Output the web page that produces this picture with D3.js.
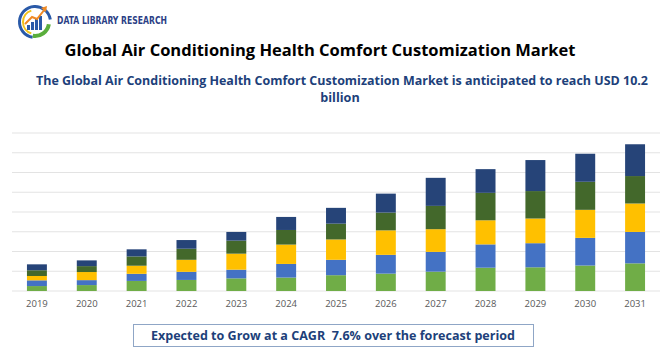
<!DOCTYPE html>
<html>
<head>
<meta charset="utf-8">
<script src="https://cdn.jsdelivr.net/npm/d3@7/dist/d3.min.js"></script>
<style>
  body { margin: 0; background: #fff; }
  svg { display: block; font-family: "Open Sans", "Liberation Sans", sans-serif; }
</style>
</head>
<body>
<svg id="chart"></svg>
<script>
const width = 670;
const height = 350;
const years = ["2019", "2020", "2021", "2022", "2023", "2024", "2025", "2026", "2027", "2028", "2029", "2030", "2031"];
// stacked segments, bottom to top
const seriesA = [0.25, 0.30, 0.51, 0.56, 0.64, 0.68, 0.80, 0.88, 0.98, 1.18, 1.20, 1.29, 1.40];
const seriesB = [0.29, 0.25, 0.36, 0.41, 0.44, 0.69, 0.78, 0.95, 1.00, 1.18, 1.22, 1.40, 1.59];
const seriesC = [0.22, 0.41, 0.41, 0.61, 0.81, 0.98, 1.03, 1.24, 1.15, 1.22, 1.25, 1.42, 1.44];
const seriesD = [0.29, 0.30, 0.47, 0.56, 0.66, 0.74, 0.80, 0.90, 1.18, 1.39, 1.39, 1.42, 1.39];
const seriesE = [0.30, 0.29, 0.36, 0.44, 0.44, 0.66, 0.80, 0.96, 1.42, 1.20, 1.57, 1.42, 1.61];
const seriesKeys = ["a", "b", "c", "d", "e"];
const seriesColors = ["#70ad47", "#4472c4", "#ffc000", "#43682b", "#264478"];
const gridTicks = [0, 1, 2, 3, 4, 5, 6, 7, 8];

const svg = d3.select("#chart").attr("width", width).attr("height", height);

// logo
const logo = svg.append("g").attr("transform", "translate(35,22)");
logo.append("path")
    .attr("d", d3.arc()({innerRadius: 14, outerRadius: 17, startAngle: Math.PI * 0.05, endAngle: Math.PI * 1.45}))
    .attr("fill", "#2a5aa8").attr("transform", "rotate(180)");
logo.append("path")
    .attr("d", d3.arc()({innerRadius: 11, outerRadius: 13, startAngle: Math.PI * 1.1, endAngle: Math.PI * 1.9}))
    .attr("fill", "#f2c318");
logo.append("path")
    .attr("d", d3.arc()({innerRadius: 12, outerRadius: 16, startAngle: Math.PI * 0.55, endAngle: Math.PI * 1.05}))
    .attr("fill", "#5aae3c");
const logoBars = [5, 8, 11, 14];
logo.selectAll("rect.lb").data(logoBars).enter().append("rect")
    .attr("x", (d, i) => -8 + i * 4)
    .attr("y", d => 8 - d)
    .attr("width", 3)
    .attr("height", d => d)
    .attr("fill", "#2a5aa8");
logo.append("path")
    .attr("d", "M-10,2 L-3,-5 L2,-3 L10,-13")
    .attr("fill", "none").attr("stroke", "#f08a24").attr("stroke-width", 2);
logo.append("path").attr("d", "M6,-14 L12,-16 L11,-10 Z").attr("fill", "#f08a24");
svg.append("text")
    .attr("x", 57).attr("y", 24)
    .attr("font-size", 10).attr("font-weight", "bold")
    .attr("font-family", "'DejaVu Sans Condensed', 'Liberation Sans Narrow', sans-serif")
    .attr("fill", "#2c3f86")
    .attr("textLength", 110).attr("lengthAdjust", "spacingAndGlyphs")
    .text("DATA LIBRARY RESEARCH");

// titles
svg.append("text")
    .attr("x", 320).attr("y", 56)
    .attr("text-anchor", "middle")
    .attr("font-size", 16.5).attr("font-weight", "bold")
    .attr("fill", "#000")
    .text("Global Air Conditioning Health Comfort Customization Market");
svg.append("text")
    .attr("x", 342).attr("y", 85)
    .attr("text-anchor", "middle")
    .attr("font-size", 12.6).attr("font-weight", "bold")
    .attr("fill", "#203f7a")
    .attr("textLength", 612).attr("lengthAdjust", "spacingAndGlyphs")
    .text("The Global Air Conditioning Health Comfort Customization Market is anticipated to reach USD 10.2");
svg.append("text")
    .attr("x", 340).attr("y", 102)
    .attr("text-anchor", "middle")
    .attr("font-size", 12.6).attr("font-weight", "bold")
    .attr("fill", "#203f7a")
    .text("billion");

// chart
const x = d3.scaleBand().domain(years).range([12, 660]).paddingInner(0.6).paddingOuter(0.3);
const y = d3.scaleLinear().domain([0, 8]).range([291, 133]);

svg.append("g")
    .selectAll("line")
    .data(gridTicks)
    .enter()
    .append("line")
    .attr("x1", 12).attr("x2", 660)
    .attr("y1", d => y(d)).attr("y2", d => y(d))
    .attr("stroke", "#e3e3e3").attr("stroke-width", 1);

const rows = years.map((yr, i) => ({
    year: yr, a: seriesA[i], b: seriesB[i], c: seriesC[i], d: seriesD[i], e: seriesE[i]
}));
const stacked = d3.stack().keys(seriesKeys)(rows);

svg.append("g")
    .selectAll("g")
    .data(stacked)
    .enter()
    .append("g")
    .attr("fill", (d, i) => seriesColors[i])
    .selectAll("rect")
    .data(d => d)
    .enter()
    .append("rect")
    .attr("x", d => x(d.data.year))
    .attr("y", d => y(d[1]))
    .attr("width", x.bandwidth())
    .attr("height", d => y(d[0]) - y(d[1]));

const xAxis = svg.append("g")
    .attr("transform", "translate(0,291)")
    .call(d3.axisBottom(x).tickSize(0).tickPadding(9));
xAxis.select(".domain").remove();
xAxis.selectAll("text")
    .attr("font-size", 9.5)
    .attr("font-family", "'Open Sans', sans-serif")
    .attr("fill", "#595959");

// CAGR box
svg.append("rect")
    .attr("x", 133.5).attr("y", 324.5)
    .attr("width", 400).attr("height", 22)
    .attr("fill", "#fff")
    .attr("stroke", "#8fa6c6").attr("stroke-width", 1);
svg.append("text")
    .attr("x", 333).attr("y", 340)
    .attr("text-anchor", "middle")
    .attr("font-size", 12.5).attr("font-weight", "bold")
    .attr("fill", "#203f7a")
    .attr("xml:space", "preserve")
    .attr("textLength", 364).attr("lengthAdjust", "spacingAndGlyphs")
    .text("Expected to Grow at a CAGR  7.6% over the forecast period");
</script>
</body>
</html>
